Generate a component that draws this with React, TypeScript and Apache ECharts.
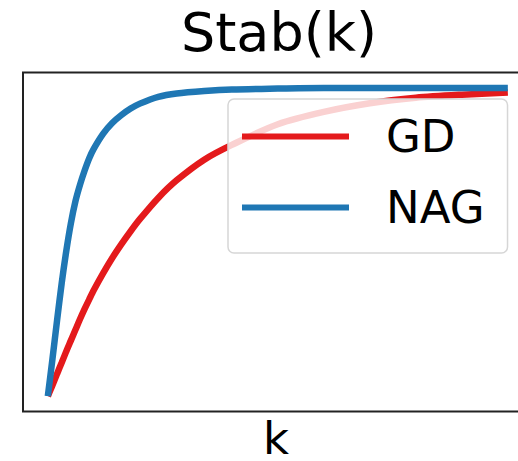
import React, { useEffect, useRef } from "react";
import * as echarts from "echarts";

const kValues = [0, 1, 2, 3, 4, 5, 6, 7, 8, 9, 10, 12, 14, 16, 18, 20, 24, 28, 34, 40, 50, 60, 70, 80, 90, 100];
const gdValues = [0, 0.035, 0.072, 0.108, 0.145, 0.18, 0.215, 0.25, 0.283, 0.314, 0.344, 0.398, 0.448, 0.493, 0.535, 0.574, 0.643, 0.7, 0.767, 0.815, 0.882, 0.922, 0.95, 0.968, 0.978, 0.985];
const nagValues = [0, 0.12, 0.245, 0.365, 0.47, 0.56, 0.632, 0.686, 0.732, 0.772, 0.803, 0.851, 0.886, 0.912, 0.933, 0.949, 0.971, 0.982, 0.99, 0.995, 0.998, 1.0, 1.0, 1.0, 1.0, 1.0];
const seriesNames = ["GD", "NAG"];
const seriesColors = ["#e41a1c", "#1f77b4"];
const titleText = "Stab(k)";
const xLabel = "k";

const FONT = "DejaVu Sans";

export default function App() {
  const ref = useRef<HTMLDivElement>(null);
  useEffect(() => {
    if (!ref.current) return;
    const chart = echarts.init(ref.current, undefined, { renderer: "svg" });
    const allValues = [gdValues, nagValues];
    chart.setOption({
      animation: false,
      backgroundColor: "#ffffff",
      title: {
        text: titleText,
        left: 279,
        top: 5,
        textAlign: "center",
        padding: 0,
        textStyle: { fontFamily: FONT, fontSize: 54, fontWeight: "normal", color: "#000" },
      },
      legend: {
        left: 228,
        top: 99,
        orient: "vertical",
        icon: "rect",
        itemWidth: 107,
        itemHeight: 6,
        itemGap: 26,
        padding: [15, 23, 23, 14],
        backgroundColor: "rgba(255,255,255,0.8)",
        borderColor: "#d6d6d6",
        borderWidth: 1.5,
        borderRadius: 6,
        textStyle: { fontFamily: FONT, fontSize: 45, lineHeight: 45, color: "#000", padding: [0, 0, 0, 32] },
        data: seriesNames,
      },
      grid: {
        left: 23,
        top: 72.5,
        right: -11,
        bottom: 49.5,
        outerBoundsMode: "none",
        containLabel: false,
        show: true,
        borderColor: "#222",
        borderWidth: 2,
        backgroundColor: "#fff",
      },
      xAxis: {
        type: "value",
        min: -5.4,
        max: 104.6,
        name: xLabel,
        nameLocation: "middle",
        nameGap: 9.5,
        nameTextStyle: { fontFamily: FONT, fontSize: 45, lineHeight: 34, color: "#000" },
        axisLine: { show: false },
        axisTick: { show: false },
        axisLabel: { show: false },
        splitLine: { show: false },
      },
      yAxis: {
        type: "value",
        min: -0.05,
        max: 1.05,
        axisLine: { show: false },
        axisTick: { show: false },
        axisLabel: { show: false },
        splitLine: { show: false },
      },
      series: seriesNames.map((name, i) => ({
        name,
        type: "line",
        data: kValues.map((k, j) => [k, allValues[i][j]]),
        showSymbol: false,
        symbol: "none",
        smooth: 0.3,
        color: seriesColors[i],
        lineStyle: { width: 6.5, color: seriesColors[i] },
        z: 2 + i,
      })),
    });
    return () => chart.dispose();
  }, []);
  return <div ref={ref} style={{ position: "absolute", left: 0, top: 0, width: 518, height: 461 }} />;
}
